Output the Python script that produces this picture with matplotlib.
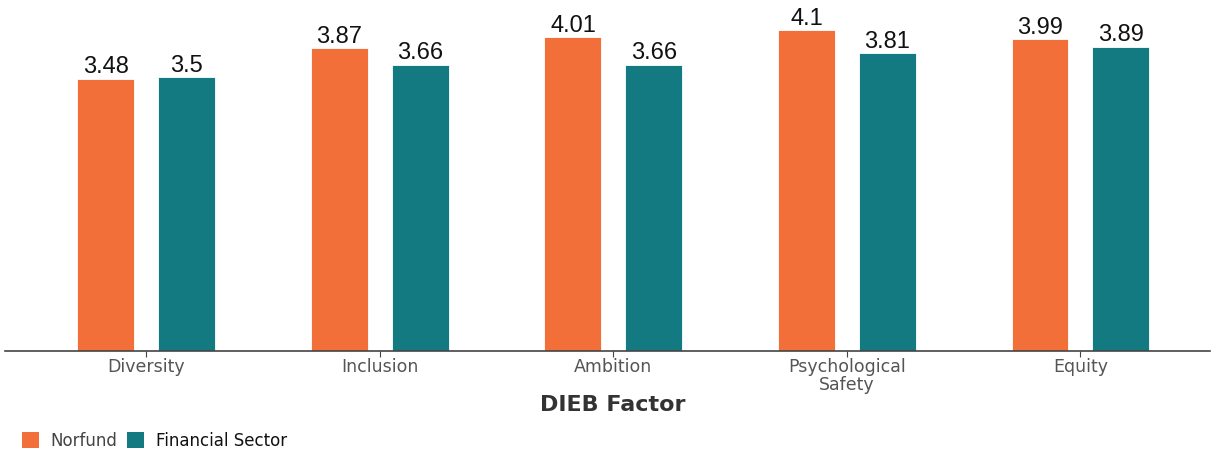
import numpy as np
import matplotlib.pyplot as plt
from matplotlib.patches import Patch

factors = ["Diversity", "Inclusion", "Ambition", "Psychological\nSafety", "Equity"]
norfund = [3.48, 3.87, 4.01, 4.1, 3.99]
financial = [3.5, 3.66, 3.66, 3.81, 3.89]
series_names = ["Norfund", "Financial Sector"]

ORANGE = "#F36F3A"
TEAL = "#137A82"

plt.rcParams['font.family'] = ['DejaVu Sans']

fig = plt.figure(figsize=(12.15, 4.54), dpi=100)
ax = fig.add_axes([5/1215, 103/454, 1205/1215, 1 - 103/454 - 14.7/454])

x = np.arange(len(factors))
off, w = 0.173, 0.244
b1 = ax.bar(x - off, norfund, w, color=ORANGE, edgecolor="white", linewidth=0.6)
b2 = ax.bar(x + off, financial, w, color=TEAL, edgecolor="white", linewidth=0.6)

for bars, vals in ((b1, norfund), (b2, financial)):
    for rect, v in zip(bars, vals):
        ax.text(rect.get_x() + rect.get_width() / 2, v + 0.005, f"{v:g}",
                ha="center", va="bottom", fontsize=17, color="#111",
                family="Liberation Sans")

ax.set_xlim(-0.605, 4.555)
ax.set_ylim(0, 4.3)
ax.set_yticks([])
for s in ("top", "right", "left"):
    ax.spines[s].set_visible(False)
ax.spines["bottom"].set_color("#444")
ax.spines["bottom"].set_linewidth(1.2)
ax.set_xticks(x)
ax.set_xticklabels(factors, fontsize=12.5, color="#555", linespacing=1.0)
ax.tick_params(axis="x", length=4, color="#444", pad=1)

fig.text(613/1215, 1 - 405/454, "DIEB Factor", ha="center", va="center",
         fontsize=16, fontweight="bold", color="#333")

handles = [Patch(facecolor=ORANGE, edgecolor="none"), Patch(facecolor=TEAL, edgecolor="none")]
leg = fig.legend(handles, series_names, loc="center left", bbox_to_anchor=(22/1215, 1 - 441/454),
                 ncol=2, frameon=False, fontsize=12, handlelength=1.0, handleheight=1.1,
                 handletextpad=0.7, columnspacing=0.6, borderaxespad=0, borderpad=0)
leg.get_texts()[0].set_color("#444")
leg.get_texts()[1].set_color("#111")

fig.savefig("out.png", dpi=100)
